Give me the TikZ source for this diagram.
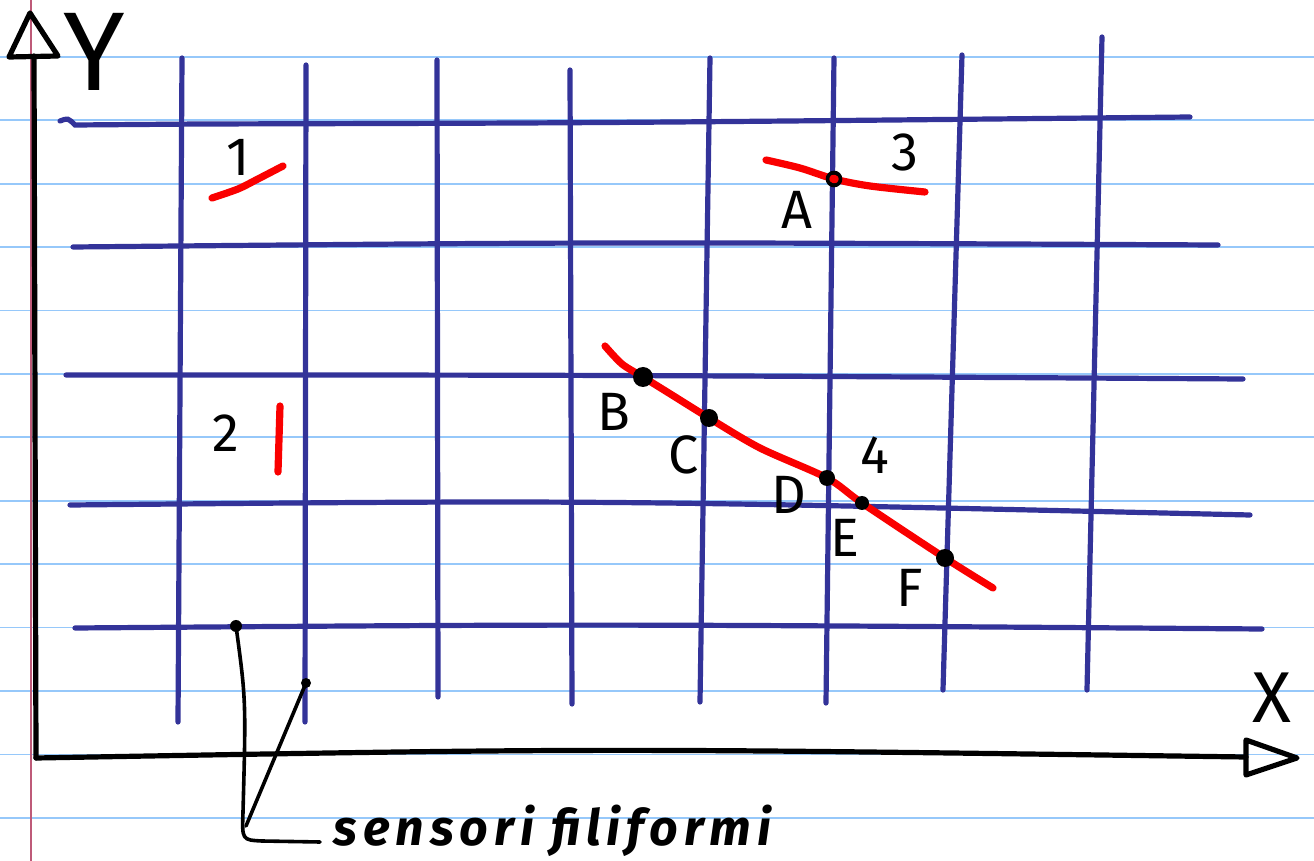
\documentclass[tikz,border=0pt]{standalone}
\usepackage{fontspec}
\setmainfont{Fira Sans}
\definecolor{gridblue}{RGB}{51,51,153}
\definecolor{rulecol}{RGB}{150,200,250}
\definecolor{margincol}{RGB}{190,90,120}
\definecolor{penred}{RGB}{250,0,0}
\tikzset{
  ruleline/.style={draw=rulecol, line width=0.9pt},
  gridline/.style={draw=gridblue, line width=2.6pt, line cap=round},
  redstroke/.style={draw=penred, line width=3.6pt, line cap=round, line join=round},
  axisline/.style={draw=black, line width=2.6pt, line cap=round, line join=round},
  dotpt/.style={circle, fill=black, inner sep=0pt},
  ringpt/.style={circle, draw=black, fill=penred, line width=1.6pt, inner sep=0pt, minimum size=6pt},
  lbl/.style={font=\fontsize{27}{27}\selectfont, inner sep=0pt},
  wire/.style={draw=black, line width=1.8pt, line cap=round, line join=round}
}
\begin{document}
\begin{tikzpicture}[x=0.5pt,y=-0.5pt]
\useasboundingbox (0,0) rectangle (1314,861);
\fill[white] (0,0) rectangle (1314,861);
% ruled paper
\foreach \k in {0,...,12} \draw[ruleline] (0,{57+63.4*\k}) -- (1314,{57+63.4*\k});
\draw[draw=margincol, line width=0.6pt] (31,0) -- (31,861);
% grid: horizontal
\draw[gridline] (60,121) .. controls (68,118) .. (75,125) -- (200,124) .. controls (600,123) .. (1190,117);
\draw[gridline] (73,247) .. controls (600,242) .. (1218,245);
\draw[gridline] (66,375) .. controls (600,375) .. (1243,379);
\draw[gridline] (70,505) .. controls (600,500) .. (1250,515);
\draw[gridline] (75,628) .. controls (600,624) .. (1262,629);
% grid: vertical
\draw[gridline] (182,58) -- (178,722);
\draw[gridline] (306,65) -- (305,722);
\draw[gridline] (437,60) -- (438,697);
\draw[gridline] (570,70) -- (572,704);
\draw[gridline] (710,58) -- (700,702);
\draw[gridline] (834,58) -- (826,703);
\draw[gridline] (962,55) -- (943,690);
\draw[gridline] (1102,37) -- (1087,690);
% axes
\coordinate (O) at (36,758);
\coordinate (ybase) at (34,56);
\coordinate (xbase) at (1246,757);
\draw[axisline] (O) -- (ybase);
\draw[axisline] (30,13) -- (9,57) -- (58,56) -- cycle;
\draw[axisline] (O) .. controls (600,748) .. (xbase);
\draw[axisline] (1246,740) -- (1297,758) -- (1246,775) -- cycle;
\node[font=\fontsize{56}{56}\selectfont, inner sep=0pt] (ylab) at (94,52) {Y};
\node[font=\fontsize{36}{36}\selectfont, inner sep=0pt] (xlab) at (1272,698) {X};
% red strokes
\draw[redstroke] plot[smooth] coordinates {(212,198) (238,189) (256,180) (283,166)};
\node[lbl] (n1) at (238,157) {1};
\draw[redstroke] (280,406) -- (278,472);
\node[lbl] (n2) at (226,433) {2};
% stroke 3 with A
\node[ringpt] (A) at (834,179) {};
\draw[redstroke] plot[smooth] coordinates {(766,160) (800,168) (A.center) (870,186) (925,192)};
\draw[draw=black, line width=1.8pt] (A) circle[radius=6.5];
\node[lbl] (n3) at (905,152) {3};
\node[lbl] (lA) at (797,210) {A};
% stroke 4 with B..F
\coordinate (B0) at (643,377);
\coordinate (C0) at (709,418);
\coordinate (D0) at (827,478);
\coordinate (E0) at (862,503);
\coordinate (F0) at (945,558);
\draw[redstroke] plot[smooth] coordinates {(605,346) (622,364) (B0) (672,395) (C0) (760,448) (D0) (E0) (F0) (993,588)};
\node[dotpt, minimum size=10pt] (B) at (B0) {};
\node[dotpt, minimum size=9pt] (C) at (C0) {};
\node[dotpt, minimum size=8pt] (D) at (D0) {};
\node[dotpt, minimum size=7pt] (E) at (E0) {};
\node[dotpt, minimum size=9pt] (F) at (F0) {};
\node[lbl] (lB) at (614,412) {B};
\node[lbl] (lC) at (684,455) {C};
\node[lbl] (lD) at (789,495) {D};
\node[lbl] (lE) at (845,538) {E};
\node[lbl] (lF) at (910,588) {F};
\node[lbl] (n4) at (875,455) {4};
% sensori filiformi
\node[dotpt, minimum size=6pt] (s1) at (236,626) {};
\node[dotpt, minimum size=5pt] (s2) at (306,683) {};
\coordinate (wend) at (320,842);
\draw[wire] (s1.center) .. controls (246,700) .. (243,812) .. controls (242,840) .. (262,841) -- (wend);
\draw[wire] (s2.center) -- (246,826);
\node[anchor=base west, inner sep=0pt, font=\bfseries\itshape\fontsize{25}{25}\selectfont\addfontfeature{LetterSpace=12}] (sf) at (333,845) {sensori filiformi};
\end{tikzpicture}
\end{document}
